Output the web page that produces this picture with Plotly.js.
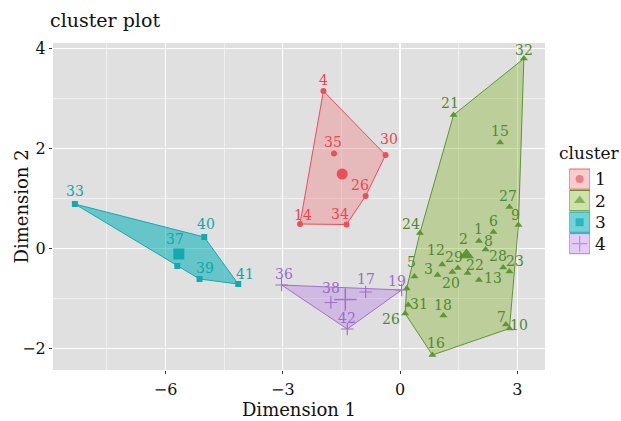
<!DOCTYPE html>
<html><head><meta charset="utf-8">
<script src="https://cdn.plot.ly/plotly-3.0.1.min.js"></script>
<style>html,body{margin:0;padding:0;background:#fff}#chart{width:621px;height:421px}</style>
</head><body><div id="chart"></div>
<script>
// ---- data ----
const clusterIds = ['1', '2', '3', '4'];

const c1Labels = ['4', '35', '30', '26', '14', '34'];
const c1X = [-1.96, -1.69, -0.37, -0.88, -2.56, -1.37];
const c1Y = [3.15, 1.90, 1.87, 1.05, 0.49, 0.48];

const c2Labels = ['32','21','15','27','9','6','24','1','8','2','12','29','3','22','20','13','28','23','5','','31','26','18','7','10','16'];
const c2X = [3.17, 1.37, 2.56, 2.80, 3.03, 2.39, 0.51, 2.02, 2.19, 1.70, 1.08, 1.48, 0.96, 1.73, 1.34, 2.02, 2.64, 2.80, 0.37, 0.17, 0.21, 0.13, 1.11, 2.71, 2.80, 0.83];
const c2Y = [3.80, 2.67, 2.12, 0.83, 0.47, 0.33, 0.31, 0.15, -0.02, -0.10, -0.32, -0.39, -0.53, -0.49, -0.47, -0.63, -0.38, -0.46, -0.56, -0.80, -1.13, -1.30, -1.34, -1.52, -1.60, -2.13];

const c3Labels = ['33', '40', '37', '39', '41'];
const c3X = [-8.32, -5.01, -5.70, -5.13, -4.14];
const c3Y = [0.89, 0.23, -0.35, -0.61, -0.71];

const c4Labels = ['36', '17', '19', '38', '42'];
const c4X = [-3.03, -0.88, 0.04, -1.77, -1.35];
const c4Y = [-0.73, -0.87, -0.83, -1.08, -1.61];

const centerX = [-1.48, 1.70, -5.66, -1.40];
const centerY = [1.49, -0.13, -0.11, -1.02];

const xTicks = [-6, -3, 0, 3];
const yTicks = [-2, 0, 2, 4];

// ---- style ----
const FONT = 'DejaVu Serif';
const lineColors = ['#E8505A', '#5E9632', '#14A9AF', '#A070CC'];
const textColors = ['#E8474F', '#4F8A2E', '#13A5AC', '#9B6BC8'];
const fillColors = ['rgba(240,120,125,0.38)', 'rgba(130,175,40,0.38)', 'rgba(0,175,180,0.55)', 'rgba(185,130,230,0.40)'];
const symbols = ['circle', 'triangle-up', 'square', 'cross-thin-open'];
const ptSizes = [6, 7, 6, 9];
const cenSizes = [11, 13, 11, 16];
// label offsets [dx, dy-up] in pixels
const off1 = [[0,11],[-1,12],[3,16],[-6,11],[3,9],[-6,11]];
const off2 = [[0,9],[-4,12],[0,12],[-1,11],[-3,10],[0,11],[-9,9],[0,12],[3,9],[-3,15],[-6,15],[-4,11],[-9,6],[7,8],[-1,-11],[14,2],[-5,12],[6,11],[-3,15],[0,0],[11,1],[-14,-5],[0,11],[-4,8],[10,4],[4,12]];
const off3 = [[0,13],[2,13],[-2,27],[5,11],[7,10]];
const off4 = [[2,11],[0,13],[-5,9],[0,15],[0,11]];

const clusters = [
  {labels: c1Labels, x: c1X, y: c1Y, off: off1},
  {labels: c2Labels, x: c2X, y: c2Y, off: off2},
  {labels: c3Labels, x: c3X, y: c3Y, off: off3},
  {labels: c4Labels, x: c4X, y: c4Y, off: off4}
];

function convexHull(xs, ys) {
  const pts = xs.map((x, i) => [x, ys[i]]).sort((a, b) => a[0] - b[0] || a[1] - b[1]);
  const cross = (o, a, b) => (a[0]-o[0])*(b[1]-o[1]) - (a[1]-o[1])*(b[0]-o[0]);
  const lower = [], upper = [];
  for (const p of pts) { while (lower.length >= 2 && cross(lower[lower.length-2], lower[lower.length-1], p) <= 0) lower.pop(); lower.push(p); }
  for (let i = pts.length - 1; i >= 0; i--) { const p = pts[i]; while (upper.length >= 2 && cross(upper[upper.length-2], upper[upper.length-1], p) <= 0) upper.pop(); upper.push(p); }
  const h = lower.slice(0, -1).concat(upper.slice(0, -1));
  h.push(h[0]);
  return {x: h.map(p => p[0]), y: h.map(p => p[1])};
}

const traces = [];
const annotations = [];
const shapes = [{type: 'rect', xref: 'x domain', yref: 'y domain', x0: 0, x1: 1, y0: 0, y1: 1,
  fillcolor: '#E0E0E0', line: {width: 0}, layer: 'below'}];

clusters.forEach((c, k) => {
  const h = convexHull(c.x, c.y);
  traces.push({x: h.x, y: h.y, mode: 'lines', fill: 'toself', fillcolor: fillColors[k],
    line: {color: lineColors[k], width: 1}, hoverinfo: 'skip', showlegend: false, xaxis: 'x', yaxis: 'y'});
});
clusters.forEach((c, k) => {
  traces.push({x: c.x, y: c.y, mode: 'markers', showlegend: false, cliponaxis: false,
    marker: {symbol: symbols[k], size: ptSizes[k], color: lineColors[k], line: {color: lineColors[k], width: k === 3 ? 1.2 : 0}},
    text: c.labels, hoverinfo: 'text', xaxis: 'x', yaxis: 'y'});
  traces.push({x: [centerX[k]], y: [centerY[k]], mode: 'markers', showlegend: false,
    marker: {symbol: symbols[k], size: cenSizes[k], color: lineColors[k], line: {color: lineColors[k], width: k === 3 ? 1.5 : 0}},
    hoverinfo: 'skip', xaxis: 'x', yaxis: 'y'});
  c.labels.forEach((lab, i) => {
    if (!lab) return;
    annotations.push({x: c.x[i], y: c.y[i], xref: 'x', yref: 'y', text: lab, showarrow: false,
      xanchor: 'center', yanchor: 'middle', xshift: c.off[i][0], yshift: c.off[i][1],
      font: {family: FONT, size: 14, color: textColors[k]}});
  });
});

// custom legend (own small axes)
const legY = clusterIds.map((_, i) => i + 1);
traces.push({x: legY.map(() => 0.5), y: legY, mode: 'markers', xaxis: 'x2', yaxis: 'y2', showlegend: false, hoverinfo: 'skip',
  marker: {symbol: symbols, size: [8, 10, 8, 11], color: lineColors, line: {color: lineColors, width: [0, 0, 0, 1.3]}}});
clusterIds.forEach((id, i) => {
  shapes.push({type: 'rect', xref: 'x2', yref: 'y2', x0: 0, x1: 1, y0: legY[i] - 0.47, y1: legY[i] + 0.47,
    fillcolor: fillColors[i], line: {color: lineColors[i], width: 1}});
  annotations.push({x: 1, y: legY[i], xref: 'x2', yref: 'y2', text: id, showarrow: false, xanchor: 'left', yanchor: 'middle',
    xshift: 3, font: {family: FONT, size: 17, color: '#111'}});
});
annotations.push({x: 0.9, y: 0.664, xref: 'paper', yref: 'paper', text: 'cluster', showarrow: false, xanchor: 'left', yanchor: 'middle',
  font: {family: FONT, size: 17, color: '#111'}});
// y axis title
annotations.push({x: 0, y: 0.5, xref: 'paper', yref: 'paper', text: 'Dimension 2', textangle: -90, showarrow: false,
  xanchor: 'center', yanchor: 'middle', xshift: -32, font: {family: FONT, size: 18, color: '#111'}});

const layout = {
  width: 621, height: 421,
  margin: {l: 53, r: 8, t: 43, b: 51},
  paper_bgcolor: '#fff', plot_bgcolor: 'rgba(0,0,0,0)',
  font: {family: FONT, color: '#111'},
  showlegend: false,
  title: {text: 'cluster plot', x: 50/621, xref: 'container', xanchor: 'left', y: 1 - 20/421, yref: 'container', yanchor: 'middle',
    font: {family: FONT, size: 19, color: '#111'}},
  xaxis: {domain: [0, 492/560], range: [-8.88, 3.71], tickmode: 'array', tickvals: xTicks,
    ticks: 'outside', ticklen: 3, tickcolor: '#333', tickwidth: 1, ticklabelstandoff: 2,
    showgrid: true, gridcolor: '#fff', gridwidth: 1.1, zeroline: false, showline: false,
    minor: {tickmode: 'array', tickvals: [-7.5, -4.5, -1.5, 1.5], showgrid: true, gridcolor: '#fff', gridwidth: 0.5, ticks: ''},
    tickfont: {family: FONT, size: 16, color: '#111'},
    title: {text: 'Dimension 1', font: {family: FONT, size: 18, color: '#111'}, standoff: 4}},
  yaxis: {range: [-2.43, 4.11], tickmode: 'array', tickvals: yTicks,
    ticks: 'outside', ticklen: 3, tickcolor: '#333', tickwidth: 1,
    showgrid: true, gridcolor: '#fff', gridwidth: 1.1, zeroline: false, showline: false,
    minor: {tickmode: 'array', tickvals: [-1, 1, 3], showgrid: true, gridcolor: '#fff', gridwidth: 0.5, ticks: ''},
    tickfont: {family: FONT, size: 16, color: '#111'}},
  xaxis2: {domain: [(569.3-53)/560, (590-53)/560], range: [0, 1], anchor: 'y2', visible: false, fixedrange: true},
  yaxis2: {domain: [(370-254.5)/327, (370-168.3)/327], range: [4.5, 0.5], anchor: 'x2', visible: false, fixedrange: true},
  shapes: shapes,
  annotations: annotations
};

Plotly.newPlot('chart', traces, layout, {displayModeBar: false, staticPlot: true});
</script>
</body></html>
